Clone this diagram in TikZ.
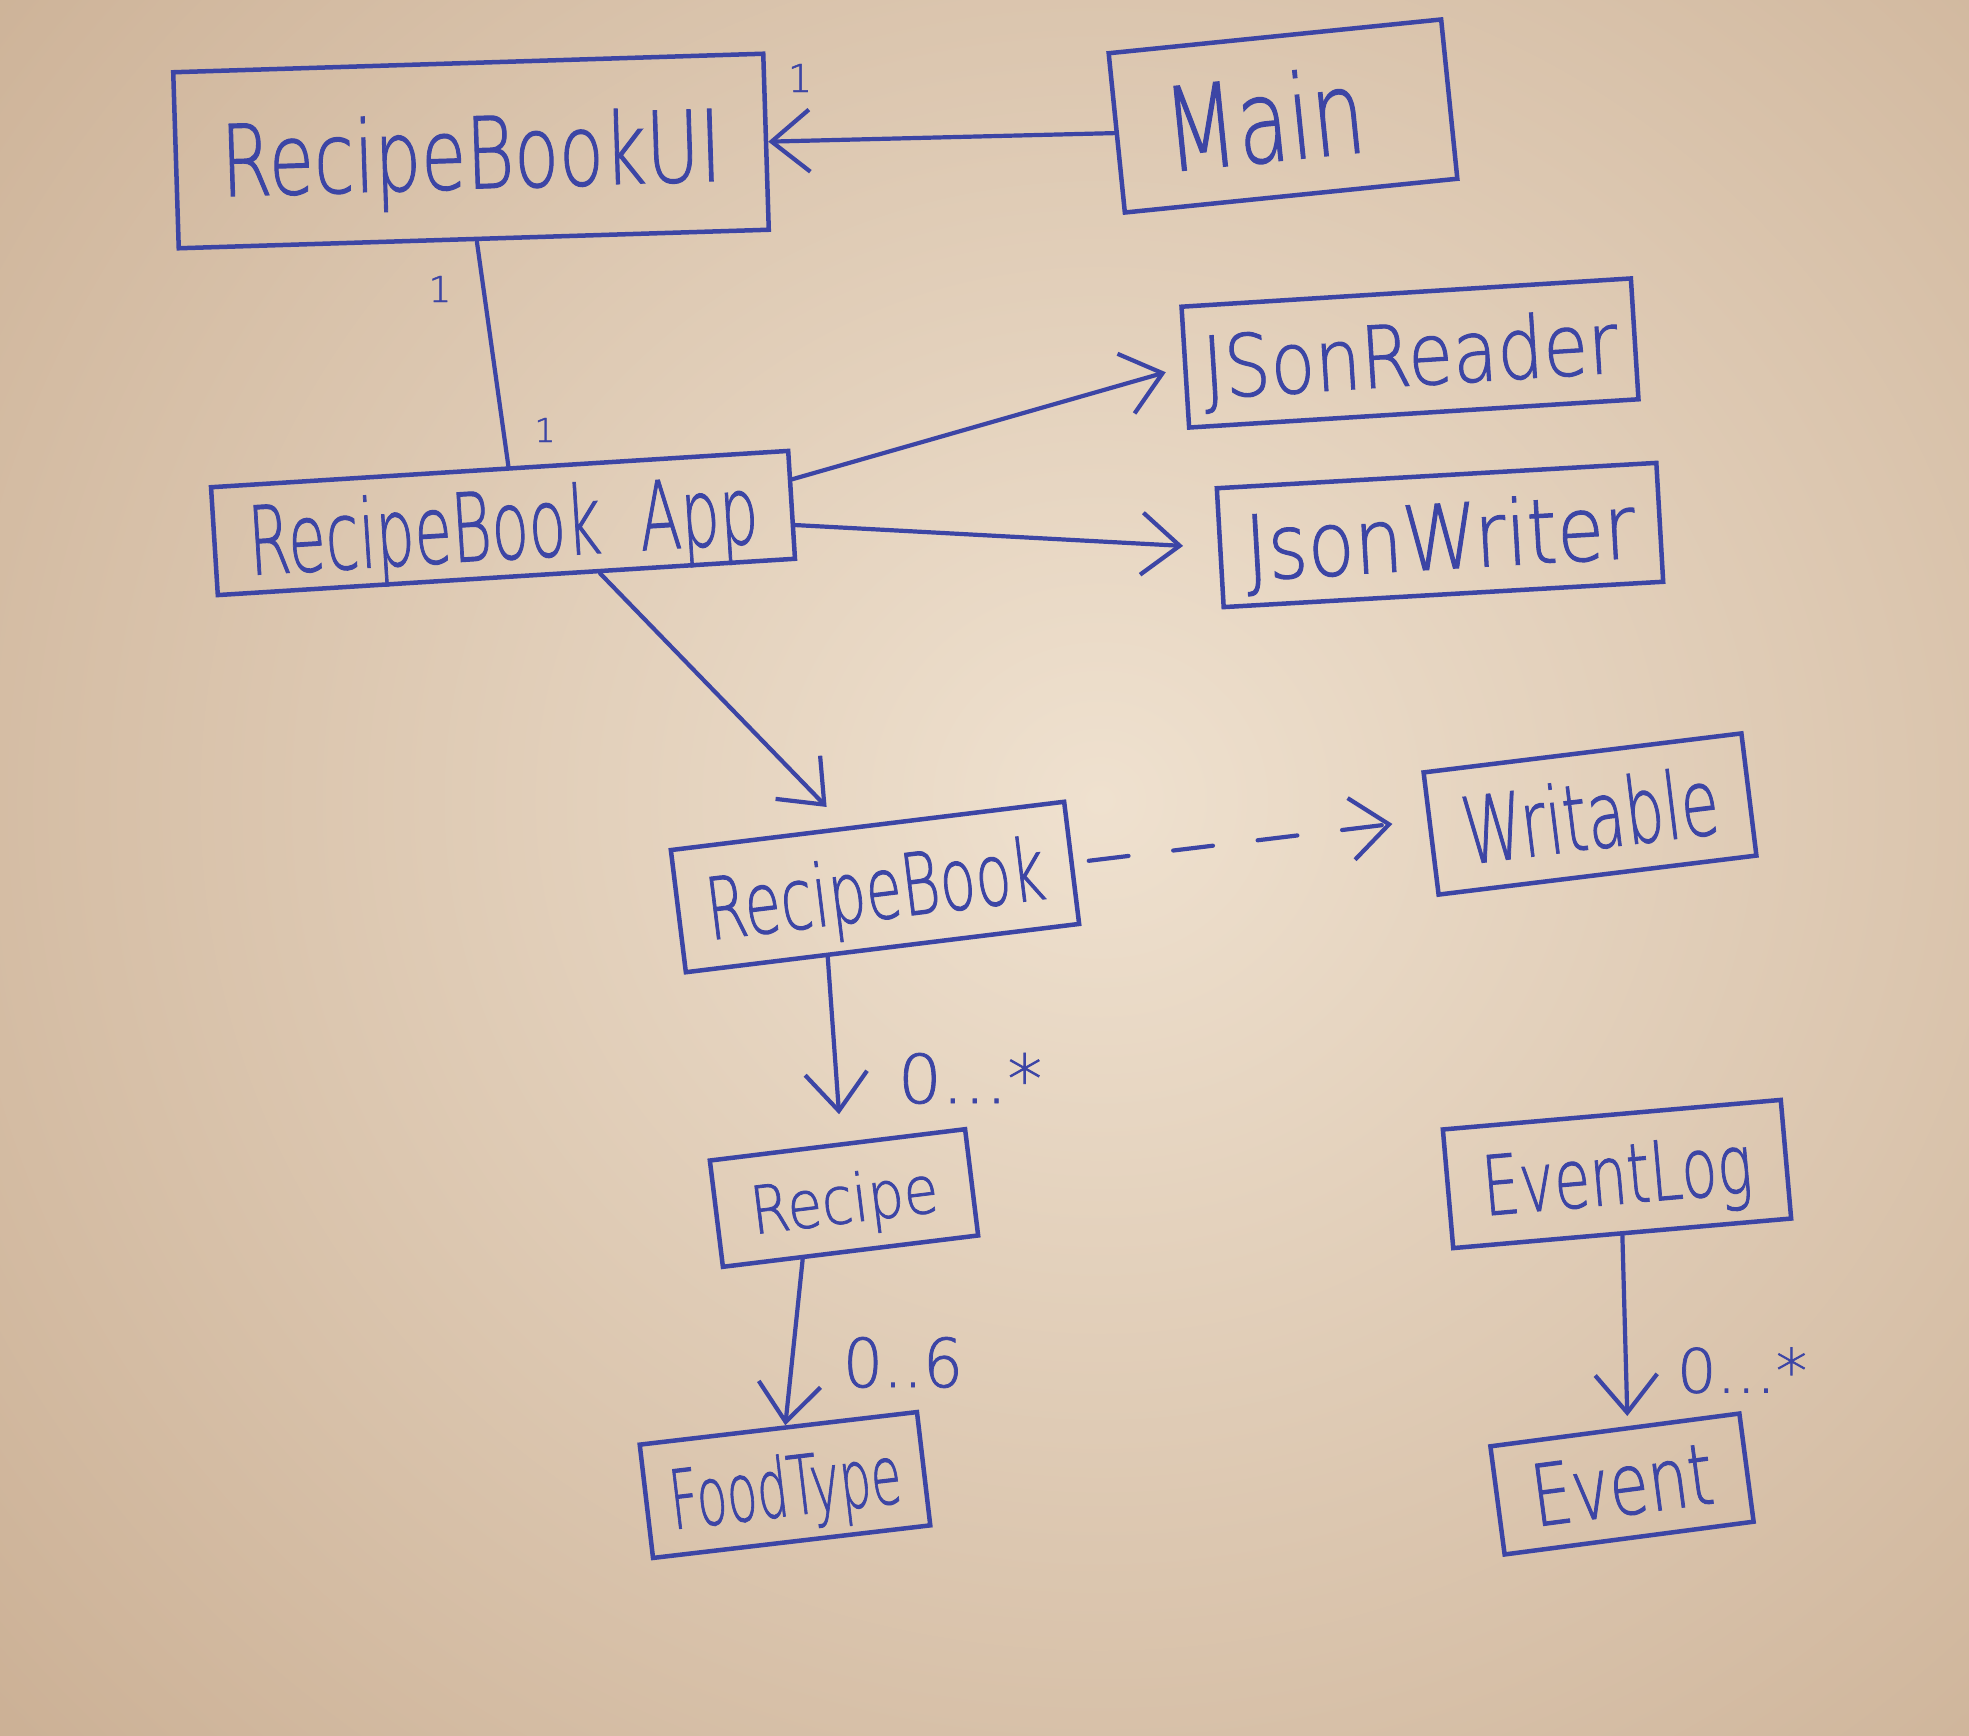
\documentclass[tikz,border=0pt]{standalone}
\usepackage{fontspec}
\setmainfont{Liberation Sans}
\newfontfamily\hand[FakeBold=1.2]{DejaVu Sans ExtraLight}
\usetikzlibrary{arrows.meta,calc}
\definecolor{ink}{HTML}{3C45A5}
\definecolor{paperlight}{HTML}{EFE1CF}
\definecolor{paperdark}{HTML}{C4A689}
\newcommand{\hw}[3]{\raisebox{0pt}[\height][0pt]{\resizebox{#1}{#2}{\hand #3}}}
\begin{document}
\begin{tikzpicture}[x=0.01cm,y=-0.01cm,
  box/.style={draw=ink, line width=0.045cm, inner sep=0pt, text=ink, align=center},
  conn/.style={draw=ink, line width=0.042cm, line cap=round,
    -{Straight Barb[length=0.38cm,width=0.62cm,line width=0.042cm]}},
  plain/.style={draw=ink, line width=0.042cm, line cap=round},
  lbl/.style={text=ink, inner sep=0pt},
  dashline/.style={dash pattern=on 0.4cm off 0.45cm}]
\useasboundingbox (0,0) rectangle (1969,1736);
\begin{scope}
  \clip (0,0) rectangle (1969,1736);
  \fill[paperlight] (0,0) rectangle (1969,1736);
  \shade[inner color=paperlight, outer color=paperdark] (-700,-900) rectangle (2900,2500);
\end{scope}

% class boxes
\node[box, minimum width=5.9cm, minimum height=1.76cm, rotate=1.8] (ui) at (471,151) {\hw{5.0cm}{0.75cm}{RecipeBookUI}};
\node[box, minimum width=3.34cm, minimum height=1.6cm, rotate=5.8] (main) at (1283,116) {\hw{2.0cm}{0.88cm}{Main}\hspace{0.38cm}};
\node[box, minimum width=4.5cm, minimum height=1.21cm, rotate=3.6] (jr) at (1410,353) {\hw{4.15cm}{0.65cm}{JSonReader}};
\node[box, minimum width=4.4cm, minimum height=1.19cm, rotate=3.3] (jw) at (1440,535) {\hw{3.9cm}{0.68cm}{JsonWriter}};
\node[box, minimum width=5.78cm, minimum height=1.08cm, rotate=3.6] (app) at (503,523) {\hw{5.1cm}{0.72cm}{RecipeBook\ \ App}};
\node[box, minimum width=3.96cm, minimum height=1.23cm, rotate=7] (rb) at (875,887) {\hw{3.4cm}{0.65cm}{RecipeBook}};
\node[box, minimum width=3.2cm, minimum height=1.23cm, rotate=7] (wr) at (1590,814) {\hw{2.57cm}{0.7cm}{Writable}};
\node[box, minimum width=2.57cm, minimum height=1.07cm, rotate=7] (rc) at (844,1198) {\hw{1.88cm}{0.5cm}{Recipe}};
\node[box, minimum width=2.79cm, minimum height=1.14cm, rotate=6.7] (ft) at (785,1485) {\hw{2.32cm}{0.62cm}{FoodType}};
\node[box, minimum width=3.39cm, minimum height=1.19cm, rotate=5] (el) at (1617,1174) {\hw{2.7cm}{0.6cm}{EventLog}};
\node[box, minimum width=2.51cm, minimum height=1.09cm, rotate=7.5] (ev) at (1622,1484) {\hw{1.82cm}{0.62cm}{Event}};

% connectors
\draw[conn] (main.west) -- (ui.east);
\draw[plain] ([xshift=0.03cm]ui.south) -- ([xshift=0.09cm]app.north);
\draw[conn, shorten >=0.18cm] (app.5) -- (jr.west);
\draw[conn, shorten >=0.35cm] (app.-4) -- (jw.west);
\draw[conn, shorten >=0.27cm] (app.-31) -- (rb.109);
\draw[conn, dashline, shorten <=0.15cm, shorten >=0.35cm] (rb.east) -- (wr.175);
\draw[conn, shorten >=0.28cm] (rb.-131) -- (rc.86);
\draw[conn] (rc.-131) -- (ft.83);
\draw[conn, shorten >=0.1cm] (el.south) -- (ev.77);

% multiplicities
\node[lbl] (m1) at (800,78) {\hw{!}{0.28cm}{1}};
\node[lbl] (m2) at (440,289) {\hw{!}{0.26cm}{1}};
\node[lbl] (m3) at (545,430) {\hw{!}{0.24cm}{1}};
\node[lbl] (m4) at (970,1078) {\hw{1.44cm}{0.5cm}{0...*}};
\node[lbl] (m5) at (903,1362) {\hw{1.2cm}{0.5cm}{0..6}};
\node[lbl] (m6) at (1742,1370) {\hw{1.3cm}{0.45cm}{0...*}};
\end{tikzpicture}
\end{document}
